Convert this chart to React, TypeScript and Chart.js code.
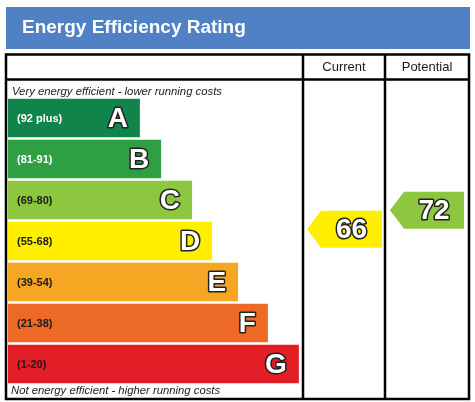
import React, { useEffect, useRef } from "react";
import { Chart, registerables } from "chart.js";

Chart.register(...registerables);

const bandLetters = ["A", "B", "C", "D", "E", "F", "G"];
const bandRanges = ["(92 plus)", "(81-91)", "(69-80)", "(55-68)", "(39-54)", "(21-38)", "(1-20)"];
const bandMin = [92, 81, 69, 55, 39, 21, 1];
const bandMax = [100, 91, 80, 68, 54, 38, 20];
const barLengths = [44.7, 51.9, 62.4, 69.2, 78, 88.1, 98.6];
const bandColors = ["#10844a", "#2ea043", "#8dc63f", "#ffee00", "#f5a623", "#ec6a25", "#e21e26"];
const rangeTextColors = ["#ffffff", "#ffffff", "#1a1a1a", "#1a1a1a", "#1a1a1a", "#1a1a1a", "#1a1a1a"];
const currentRating = 66;
const potentialRating = 72;
const titleText = "Energy Efficiency Rating";
const headerCurrent = "Current";
const headerPotential = "Potential";
const topNote = "Very energy efficient - lower running costs";
const bottomNote = "Not energy efficient - higher running costs";

const FONT = "'Liberation Sans', Arial, sans-serif";

function bandIndexFor(score: number) {
  for (let i = 0; i < bandMin.length; i++) {
    if (score >= bandMin[i]) {
      const top = bandMax[i] + 1;
      return i - 0.5 + (top - score) / (top - bandMin[i]);
    }
  }
  return bandMin.length - 1;
}

function bandFor(score: number) {
  for (let i = 0; i < bandMin.length; i++) if (score >= bandMin[i]) return i;
  return bandMin.length - 1;
}

const epcPlugin = {
  id: "epc",
  beforeDraw(chart: any) {
    const ctx = chart.ctx;
    const W = chart.width;
    ctx.save();
    ctx.fillStyle = "#ffffff";
    ctx.fillRect(0, 0, W, chart.height);
    ctx.fillStyle = "#4f81c4";
    ctx.fillRect(6, 7, 464, 42);
    ctx.fillStyle = "#ffffff";
    ctx.font = `bold 19px ${FONT}`;
    ctx.textBaseline = "alphabetic";
    ctx.textAlign = "left";
    ctx.fillText(titleText, 22, 33);
    ctx.restore();
  },
  afterDraw(chart: any) {
    const ctx = chart.ctx;
    const y = chart.scales.y;
    const left = 6, right = 469, top = 54.5, bottom = 399;
    const col1 = 303, col2 = 385;
    ctx.save();
    ctx.strokeStyle = "#000000";
    ctx.lineWidth = 2.5;
    ctx.strokeRect(left, top, right - left, bottom - top);
    ctx.beginPath();
    ctx.moveTo(left, 79.5);
    ctx.lineTo(right, 79.5);
    ctx.moveTo(col1, top);
    ctx.lineTo(col1, bottom);
    ctx.moveTo(col2, top);
    ctx.lineTo(col2, bottom);
    ctx.stroke();

    ctx.fillStyle = "#1a1a1a";
    ctx.font = `13px ${FONT}`;
    ctx.textAlign = "center";
    ctx.textBaseline = "middle";
    ctx.fillText(headerCurrent, (col1 + col2) / 2, 67.5);
    ctx.fillText(headerPotential, (col2 + right) / 2, 67.5);

    ctx.font = `italic 11.3px ${FONT}`;
    ctx.textAlign = "left";
    ctx.textBaseline = "alphabetic";
    ctx.fillText(topNote, 12, 95);
    ctx.fillText(bottomNote, 11, 394);

    const meta = chart.getDatasetMeta(0);
    meta.data.forEach((bar: any, i: number) => {
      const cy = bar.y;
      ctx.font = `bold 11px ${FONT}`;
      ctx.fillStyle = rangeTextColors[i];
      ctx.textAlign = "left";
      ctx.textBaseline = "middle";
      ctx.fillText(bandRanges[i], 17, cy + 1);

      ctx.font = `bold 28px ${FONT}`;
      ctx.textAlign = "right";
      ctx.lineJoin = "round";
      ctx.lineWidth = 3;
      ctx.strokeStyle = "#222222";
      ctx.strokeText(bandLetters[i], bar.x - 12, cy + 1);
      ctx.fillStyle = "#ffffff";
      ctx.fillText(bandLetters[i], bar.x - 12, cy + 1);
    });

    const drawArrow = (score: number, tipX: number, rightX: number) => {
      const cy = y.getPixelForValue(bandIndexFor(score));
      const h = 37;
      const tw = 14;
      ctx.beginPath();
      ctx.moveTo(tipX, cy);
      ctx.lineTo(tipX + tw, cy - h / 2);
      ctx.lineTo(rightX, cy - h / 2);
      ctx.lineTo(rightX, cy + h / 2);
      ctx.lineTo(tipX + tw, cy + h / 2);
      ctx.closePath();
      ctx.fillStyle = bandColors[bandFor(score)];
      ctx.fill();
      ctx.font = `bold 28px ${FONT}`;
      ctx.textAlign = "center";
      ctx.textBaseline = "middle";
      ctx.lineJoin = "round";
      ctx.lineWidth = 3;
      ctx.strokeStyle = "#222222";
      const tx = (tipX + tw + rightX) / 2;
      ctx.strokeText(String(score), tx, cy + 1);
      ctx.fillStyle = "#ffffff";
      ctx.fillText(String(score), tx, cy + 1);
    };
    drawArrow(currentRating, col1 + 4, col2 - 3);
    drawArrow(potentialRating, col2 + 5, right - 5);
    ctx.restore();
  },
};

export default function App() {
  const ref = useRef<HTMLCanvasElement | null>(null);
  useEffect(() => {
    if (!ref.current) return;
    const chart = new Chart(ref.current, {
      type: "bar",
      data: {
        labels: bandLetters,
        datasets: [
          {
            data: barLengths,
            backgroundColor: bandColors,
            borderWidth: 0,
            barPercentage: 1,
            categoryPercentage: 0.94,
          },
        ],
      },
      options: {
        indexAxis: "y",
        responsive: false,
        animation: false,
        devicePixelRatio: 1,
        layout: { padding: { left: 8, right: 172, top: 97.5, bottom: 17.5 } },
        scales: {
          x: { type: "linear", min: 0, max: 100, display: false },
          y: { type: "category", display: false, offset: true },
        },
        plugins: {
          legend: { display: false },
          tooltip: { enabled: false },
          title: { display: false },
        },
      },
      plugins: [epcPlugin],
    });
    return () => chart.destroy();
  }, []);
  return (
    <div style={{ position: "absolute", left: 0, top: 0, width: 475, height: 402, background: "#fff" }}>
      <canvas ref={ref} width={475} height={402} />
    </div>
  );
}
